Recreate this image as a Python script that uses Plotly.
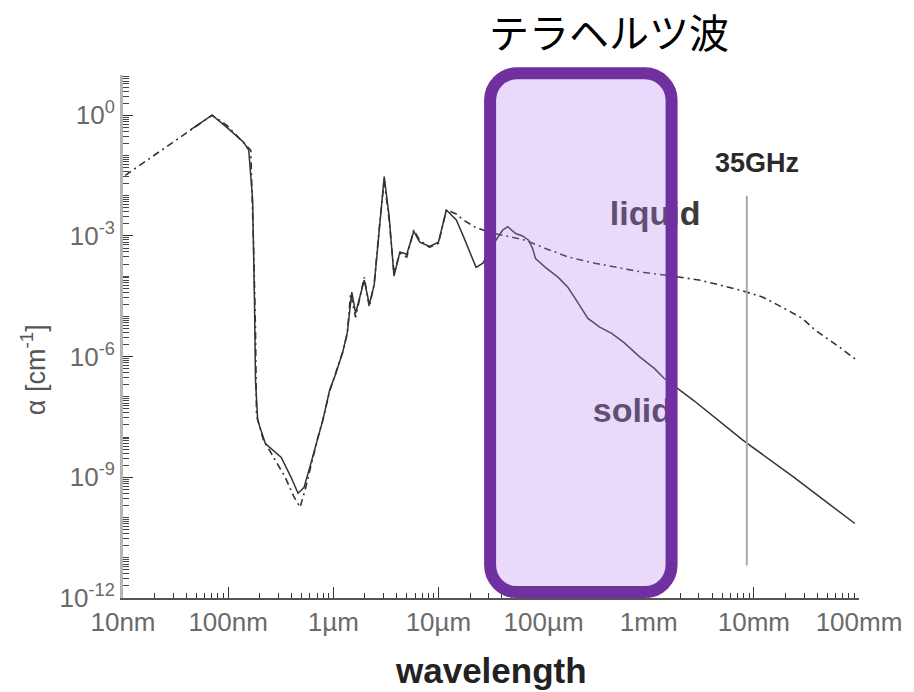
import math
import plotly.graph_objects as go

# Absorption coefficient of water, wavelength in µm, alpha in cm^-1
liquid_wavelength_um = [
    0.0105, 0.0703, 0.0973, 0.147, 0.164, 0.175, 0.182, 0.186, 0.217, 0.258,
    0.349, 0.424, 0.483, 0.538, 0.612, 0.713, 0.794, 0.925, 1.05, 1.23,
    1.36, 1.46, 1.63, 1.97, 2.2, 2.45, 2.74, 3.05, 3.4, 3.78,
    4.3, 5.0, 5.83, 6.64, 8.24, 10.0, 11.9, 14.8, 17.2, 22.8,
    31.6, 43.8, 67.5, 104, 171, 307, 506, 908, 1490, 3120,
    7410, 12200, 18800, 29000, 38500, 61900, 95500,
]
liquid_alpha = [
    0.032, 1.0, 0.56, 0.18, 0.135, 4.4e-4, 4.5e-6, 3.5e-8, 8.3e-9, 3.9e-9,
    1.0e-9, 3.2e-10, 1.8e-10, 4.7e-10, 1.9e-9, 9.8e-9, 2.6e-8, 1.4e-7, 3.8e-7, 1.3e-6,
    3.8e-6, 3.7e-5, 9.5e-6, 9.3e-5, 1.7e-5, 6.6e-5, 1.6e-3, 0.024, 2.5e-3, 1.2e-4,
    3.7e-4, 3.0e-4, 1.4e-3, 7.8e-4, 5.2e-4, 6.6e-4, 4.4e-3, 3.5e-3, 2.5e-3, 1.6e-3,
    1.2e-3, 9.8e-4, 7.8e-4, 4.9e-4, 3.0e-4, 2.1e-4, 1.66e-4, 1.23e-4, 1.05e-4, 7.9e-5,
    4.5e-5, 3.0e-5, 1.66e-5, 8.9e-6, 4.5e-6, 1.9e-6, 8.1e-7,
]

# Absorption coefficient of ice
solid_wavelength_um = [
    0.0437, 0.0703, 0.0973, 0.141, 0.157, 0.171, 0.178, 0.182, 0.191, 0.226,
    0.32, 0.397, 0.462, 0.527, 0.612, 0.713, 0.794, 0.925, 1.05, 1.23,
    1.36, 1.5, 1.63, 1.97, 2.2, 2.45, 2.74, 3.05, 3.4, 3.78,
    4.3, 5.0, 5.83, 6.64, 8.24, 10.0, 11.9, 14.8, 17.2, 19.6,
    22.8, 26.5, 35.2, 40.9, 45.6, 54.3, 63.1, 71.9, 78.5, 83.8,
    104, 138, 171, 212, 264, 342, 444, 587, 815, 1130,
    1400, 2680, 7910, 23400, 91400,
]
solid_alpha = [
    0.43, 1.0, 0.50, 0.21, 0.135, 7.8e-3, 2.5e-5, 2.6e-7, 2.6e-8, 6.9e-9,
    3.1e-9, 1.0e-9, 4.0e-10, 5.6e-10, 2.2e-9, 1.0e-8, 2.6e-8, 1.5e-7, 3.6e-7, 1.3e-6,
    4.0e-6, 4.0e-5, 1.2e-5, 8.0e-5, 2.0e-5, 6.0e-5, 1.3e-3, 0.03, 3.0e-3, 1.0e-4,
    4.0e-4, 3.5e-4, 1.3e-3, 7.0e-4, 5.5e-4, 7.0e-4, 4.4e-3, 2.5e-3, 1.0e-3, 4.4e-4,
    1.66e-4, 2.1e-4, 7.8e-4, 1.4e-3, 1.7e-3, 1.15e-3, 1.0e-3, 7.8e-4, 4.9e-4, 2.75e-4,
    1.66e-4, 9.3e-5, 5.2e-5, 2.2e-5, 8.9e-6, 5.4e-6, 3.8e-6, 2.2e-6, 1.0e-6, 5.1e-7,
    2.9e-7, 8.1e-8, 8.3e-9, 1.05e-9, 7.1e-11,
]

# Axis ticks
x_tick_um = [0.01, 0.1, 1, 10, 100, 1000, 10000, 100000]
x_tick_text = ["10nm", "100nm", "1µm", "10µm", "100µm", "1mm", "10mm", "100mm"]
y_label_exp = [0, -3, -6, -9, -12]

# Reference frequency marker
marker_freq_ghz = 35
marker_wavelength_um = 299792458 / (marker_freq_ghz * 1e9) * 1e6
marker_alpha_span = [1e-2, 6.4e-12]

# Terahertz band highlight (wavelength µm, alpha cm^-1 corners)
thz_band_um = [31, 1650]
thz_alpha_span = [1.4e-12, 11]

# Label anchor positions
liquid_label_pos = (1150, 3.1e-3)
solid_label_pos = (700, 3.9e-8)

X_RANGE = [-2, 5]      # log10 µm
Y_RANGE = [-12, 1]     # log10 cm^-1
FONT = "Liberation Sans, Arial, sans-serif"
INK = "#333333"

fig = go.Figure()

fig.add_trace(go.Scatter(
    x=liquid_wavelength_um, y=liquid_alpha, mode="lines",
    line=dict(color=INK, width=1.6, dash="7px,4px,2px,4px"),
    hoverinfo="skip", showlegend=False,
))
fig.add_trace(go.Scatter(
    x=solid_wavelength_um, y=solid_alpha, mode="lines",
    line=dict(color=INK, width=1.5),
    hoverinfo="skip", showlegend=False,
))
fig.add_trace(go.Scatter(
    x=[marker_wavelength_um, marker_wavelength_um], y=marker_alpha_span,
    mode="lines", line=dict(color="#a8a8a8", width=2),
    hoverinfo="skip", showlegend=False,
))
fig.add_trace(go.Scatter(
    x=[liquid_label_pos[0], solid_label_pos[0]],
    y=[liquid_label_pos[1], solid_label_pos[1]],
    mode="text", text=["<b>liquid</b>", "<b>solid</b>"],
    textposition="middle center",
    textfont=dict(family=FONT, size=34, color="#3a3a3a"),
    hoverinfo="skip", showlegend=False,
))

# minor log ticks (2..9 in each decade, plus unlabelled decades on y)
x_minor = [m * 10 ** k for k in range(-2, 5) for m in range(2, 10)]
y_labelled = [10.0 ** e for e in y_label_exp]
y_label_text = ["10<sup>%d</sup>" % e for e in y_label_exp]
y_minor = [m * 10.0 ** k for k in range(-12, 1) for m in range(2, 10)]
y_minor += [10.0 ** k for k in range(-12, 2) if k not in y_label_exp]

fig.update_xaxes(
    type="log", range=X_RANGE,
    tickmode="array", tickvals=x_tick_um, ticktext=x_tick_text,
    ticks="inside", ticklen=11, tickwidth=1.2, tickcolor=INK,
    minor=dict(tickvals=x_minor, ticks="inside", ticklen=5, tickwidth=1, tickcolor=INK),
    showline=True, linecolor="#555555", linewidth=2,
    showgrid=False, zeroline=False,
    tickfont=dict(family=FONT, size=26, color="#6a6a6a"),
)
fig.update_yaxes(
    type="log", range=Y_RANGE,
    tickmode="array", tickvals=y_labelled, ticktext=y_label_text,
    ticks="inside", ticklen=10, tickwidth=1.4, tickcolor=INK,
    minor=dict(tickvals=y_minor, ticks="inside", ticklen=6, tickwidth=1.2, tickcolor="#444444"),
    showline=True, linecolor="#b5b5b5", linewidth=3,
    showgrid=False, zeroline=False,
    tickfont=dict(family=FONT, size=26, color="#6a6a6a"),
)


def px_x(v):
    return (math.log10(v) - X_RANGE[0]) / (X_RANGE[1] - X_RANGE[0])


def px_y(v):
    return (math.log10(v) - Y_RANGE[0]) / (Y_RANGE[1] - Y_RANGE[0])


W, H = 914, 692
M = dict(l=123, r=47, t=75, b=94)
plot_w = W - M["l"] - M["r"]
plot_h = H - M["t"] - M["b"]

# rounded highlight box in paper coordinates
x0, x1 = px_x(thz_band_um[0]), px_x(thz_band_um[1])
y0, y1 = px_y(thz_alpha_span[0]), px_y(thz_alpha_span[1])
rx, ry = 27 / plot_w, 27 / plot_h
k = 0.4477  # 1 - 0.5523 for circular bezier corners
path = (
    f"M {x0 + rx},{y1} L {x1 - rx},{y1} "
    f"C {x1 - rx * k},{y1} {x1},{y1 - ry * k} {x1},{y1 - ry} "
    f"L {x1},{y0 + ry} "
    f"C {x1},{y0 + ry * k} {x1 - rx * k},{y0} {x1 - rx},{y0} "
    f"L {x0 + rx},{y0} "
    f"C {x0 + rx * k},{y0} {x0},{y0 + ry * k} {x0},{y0 + ry} "
    f"L {x0},{y1 - ry} "
    f"C {x0},{y1 - ry * k} {x0 + rx * k},{y1} {x0 + rx},{y1} Z"
)
fig.add_shape(
    type="path", path=path, xref="paper", yref="paper", layer="above",
    line=dict(color="#7030a0", width=12),
    fillcolor="rgba(182,128,242,0.3)",
)

fig.add_annotation(
    x=math.log10(marker_wavelength_um), y=0.832, xref="x", yref="paper",
    text="<b>35GHz</b>", showarrow=False, xanchor="center", yanchor="middle",
    xshift=10,
    font=dict(family=FONT, size=27, color="#2a2a2a"),
)
fig.add_annotation(
    x=0.66, y=1.084, xref="paper", yref="paper",
    text="テラヘルツ波", showarrow=False, xanchor="center", yanchor="middle",
    font=dict(family="Noto Sans CJK JP", size=40, color="#000000"),
)
fig.add_annotation(
    x=0.5, y=-0.138, xref="paper", yref="paper",
    text="<b>wavelength</b>", showarrow=False, xanchor="center", yanchor="middle",
    font=dict(family=FONT, size=35, color="#222222"),
)
fig.add_annotation(
    x=-0.122, y=0.436, xref="paper", yref="paper",
    text="α [cm<sup>-1</sup>]", showarrow=False, textangle=-90,
    xanchor="center", yanchor="middle",
    font=dict(family=FONT, size=27, color="#555555"),
)

fig.update_layout(
    width=W, height=H, margin=M,
    paper_bgcolor="white", plot_bgcolor="white",
    showlegend=False,
)

fig.write_html("out.html")
